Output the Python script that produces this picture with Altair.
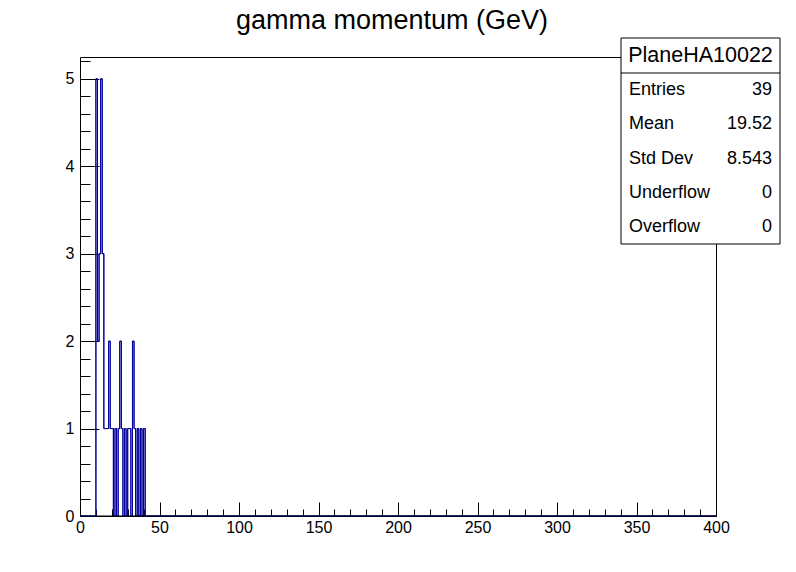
import altair as alt
import pandas as pd

# ---- data ----
bin_low = [10, 11, 12, 13, 14, 15, 16, 17, 18, 19, 20, 22, 24, 25, 26, 28, 30, 31, 33, 34, 36, 38, 40]
counts = [5, 2, 3, 5, 3, 1, 1, 1, 2, 1, 1, 1, 1, 2, 1, 1, 1, 1, 2, 1, 1, 1, 1]
n_bins = 400
x_min, x_max = 0, 400
x_major = [0, 50, 100, 150, 200, 250, 300, 350, 400]
x_minor = list(range(0, 401, 10))
y_major = [0, 1, 2, 3, 4, 5]
y_minor = [round(0.2 * i, 1) for i in range(0, 27)]
title_text = "gamma momentum (GeV)"
stats_name = "PlaneHA10022"
stat_labels = ["Entries", "Mean", "Std Dev", "Underflow", "Overflow"]
stat_values = ["39", "19.52", "8.543", "0", "0"]

# full histogram table (empty bins are zero)
lookup = dict(zip(bin_low, counts))
edges = list(range(x_min, x_max))
vals = [lookup.get(e, 0) for e in edges]
edges.append(x_max)
vals.append(0)
hist = pd.DataFrame({"x": edges, "n": vals})

FONT = "Liberation Sans"
W, H = 636, 459
BLUE = "#000099"

xs = alt.Scale(domain=[x_min, x_max], nice=False, zero=False)
ys = alt.Scale(domain=[0, 5.25], nice=False, zero=True)

major = alt.Chart(hist).mark_line(interpolate="step-after", color=BLUE, strokeWidth=1).encode(
    x=alt.X("x:Q", scale=xs, title=None,
            axis=alt.Axis(orient="bottom", values=x_major, offset=-14, tickSize=14, domain=False,
                          tickColor="black", labelPadding=3, labelFont=FONT, labelFontSize=16,
                          labelColor="black", grid=False, labelFlush=False, labelOverlap=False)),
    y=alt.Y("n:Q", scale=ys, title=None,
            axis=alt.Axis(orient="left", values=y_major, offset=-19, tickSize=19, domain=False,
                          tickColor="black", labelPadding=6, labelFont=FONT, labelFontSize=16,
                          labelColor="black", grid=False, labelFlush=False, labelOverlap=False)),
)

minor = alt.Chart(hist).mark_line(interpolate="step-after", color=BLUE, strokeWidth=1).encode(
    x=alt.X("x:Q", scale=xs, title=None,
            axis=alt.Axis(orient="bottom", values=x_minor, offset=-7, tickSize=7, domain=False,
                          labels=False, tickColor="black", grid=False)),
    y=alt.Y("n:Q", scale=ys, title=None,
            axis=alt.Axis(orient="left", values=y_minor, offset=-10, tickSize=10, domain=False,
                          labels=False, tickColor="black", grid=False)),
)

one = pd.DataFrame({"a": [0]})

# black frame bottom line drawn over the zero-level outline
base = alt.Chart(one).mark_rule(color="black", strokeWidth=1).encode(
    y=alt.Y("a:Q", scale=ys, axis=None), x=alt.value(0), x2=alt.value(W))

title = alt.Chart(one).mark_text(text=title_text, font=FONT, fontSize=27, color="black",
                                 align="center", baseline="middle").encode(
    x=alt.value(312), y=alt.value(-36))

box = alt.Chart(one).mark_rect(fill="white", stroke="black", strokeWidth=1).encode(
    x=alt.value(541), x2=alt.value(700), y=alt.value(-19), y2=alt.value(187))
sep = alt.Chart(one).mark_rule(color="black", strokeWidth=1).encode(
    x=alt.value(541), x2=alt.value(700), y=alt.value(16))
name = alt.Chart(one).mark_text(text=stats_name, font=FONT, fontSize=21.5, color="black",
                                align="center", baseline="middle").encode(
    x=alt.value(620.5), y=alt.value(-1))

layers = [major, minor, base, title, box, sep, name]
for i, (lab, val) in enumerate(zip(stat_labels, stat_values)):
    yy = 33 + i * 34.3
    layers.append(alt.Chart(one).mark_text(text=lab, font=FONT, fontSize=18, color="black",
                                           align="left", baseline="middle").encode(
        x=alt.value(549), y=alt.value(yy)))
    layers.append(alt.Chart(one).mark_text(text=val, font=FONT, fontSize=18, color="black",
                                           align="right", baseline="middle").encode(
        x=alt.value(692), y=alt.value(yy)))

chart = alt.layer(*layers).resolve_axis(x="independent", y="independent").properties(
    width=W, height=H,
    autosize=alt.AutoSizeParams(type="none"),
    padding={"left": 80, "top": 57, "right": 80, "bottom": 56},
    background="white",
).configure_view(stroke="black", strokeWidth=1)

chart.save("out.html", embed_options={"renderer": "svg", "actions": False})
